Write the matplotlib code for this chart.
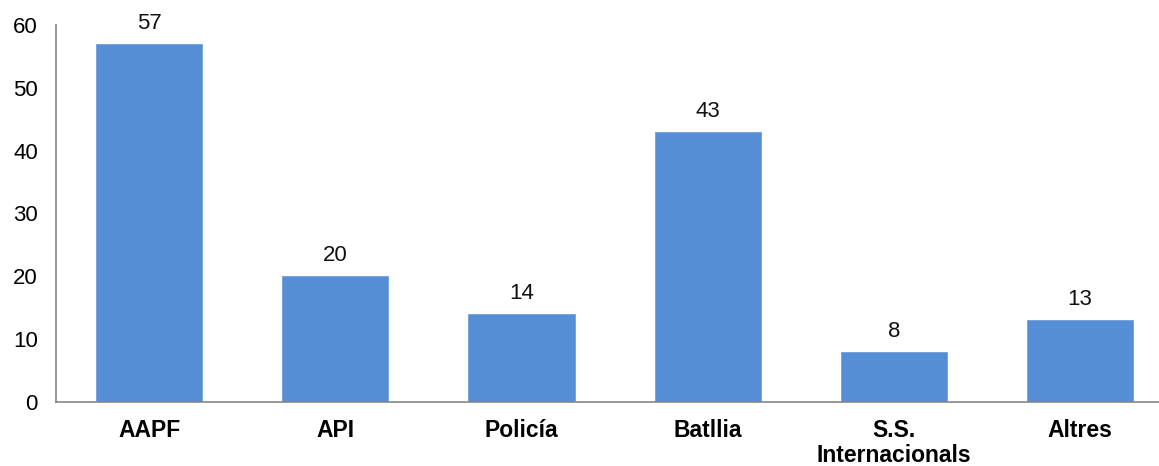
import matplotlib.pyplot as plt

categories = ['AAPF', 'API', 'Policía', 'Batllia', 'S.S.\nInternacionals', 'Altres']
values = [57, 20, 14, 43, 8, 13]
yticks = [0, 10, 20, 30, 40, 50, 60]

plt.rcParams['font.family'] = ['Liberation Sans', 'DejaVu Sans']

fig = plt.figure(figsize=(11.59, 4.66), dpi=100)
ax = fig.add_axes([0.0483, 0.1373, 0.964, 0.8091])

x = range(len(categories))
bars = ax.bar(x, values, width=0.57, color='#558ED5', edgecolor='#6F9FDB', linewidth=0.6)
for i, v in enumerate(values):
    ax.text(i, v + 1.6, str(v), ha='center', va='bottom', fontsize=16, color='#111111')

ax.set_xlim(-0.5, 5.5)
ax.set_ylim(0, 60)
ax.set_yticks(yticks)
ax.set_xticks(list(x))
ax.set_xticklabels(categories, fontsize=16.5, fontweight='bold', linespacing=1.08)
ax.tick_params(axis='y', length=0, pad=13, labelsize=16)
ax.tick_params(axis='x', length=0, pad=12.5)

for s in ['top', 'right']:
    ax.spines[s].set_visible(False)
for s in ['left', 'bottom']:
    ax.spines[s].set_color('#868686')
    ax.spines[s].set_linewidth(1.2)

fig.savefig('out.png', dpi=100)
